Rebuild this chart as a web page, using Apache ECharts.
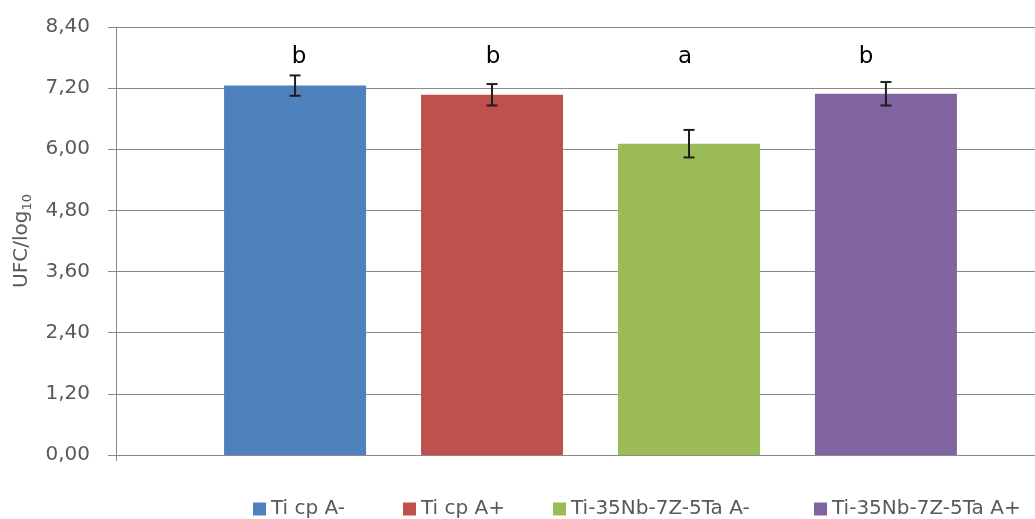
<!DOCTYPE html>
<html>
<head>
<meta charset="utf-8">
<script src="https://cdn.jsdelivr.net/npm/echarts@6/dist/echarts.min.js"></script>
<style>
html,body{margin:0;padding:0;background:#fff;}
#chart{width:1035px;height:519px;}
</style>
</head>
<body>
<div id="chart"></div>
<script>
// ---- data ----
var seriesNames = ['Ti cp A-', 'Ti cp A+', 'Ti-35Nb-7Z-5Ta A-', 'Ti-35Nb-7Z-5Ta A+'];
var means = [7.25, 7.07, 6.11, 7.09];
var errors = [0.20, 0.21, 0.27, 0.23];
var letters = ['b', 'b', 'a', 'b'];
var yTickLabels = ['0,00', '1,20', '2,40', '3,60', '4,80', '6,00', '7,20', '8,40'];
var yMin = 0, yMax = 8.4, yStep = 1.2;

// ---- style / layout ----
var colors = ['#4F81BD', '#C0504D', '#9BBB59', '#8064A2'];
var FONT = 'DejaVu Sans';
var BAR_W = 142, BAR_GAP = '38.7%';
var letterValue = 7.81;
var letterShift = [4, 1, -4, -20];
var legendLeft = [253, 403, 553, 814];

var chart = echarts.init(document.getElementById('chart'), null, {renderer: 'canvas'});

var series = seriesNames.map(function (name, i) {
  return {
    name: name,
    type: 'bar',
    data: [means[i]],
    barWidth: BAR_W,
    barGap: BAR_GAP,
    itemStyle: {color: colors[i]},
    z: 2
  };
});

series.push({
  type: 'custom',
  name: 'err',
  z: 5,
  silent: true,
  data: means.map(function (m, i) { return [0, m - errors[i], m + errors[i], i]; }),
  renderItem: function (params, api) {
    var idx = api.value(3);
    var offset;
    var layout = api.barLayout ? api.barLayout({barWidth: BAR_W, barGap: BAR_GAP, count: seriesNames.length}) : null;
    if (layout && layout[idx]) {
      offset = layout[idx].offsetCenter;
    } else {
      var gap = BAR_W * parseFloat(BAR_GAP) / 100;
      var n = seriesNames.length;
      var total = n * BAR_W + (n - 1) * gap;
      offset = -total / 2 + idx * (BAR_W + gap) + BAR_W / 2;
    }
    var lo = api.coord([api.value(0), api.value(1)]);
    var hi = api.coord([api.value(0), api.value(2)]);
    var lp = api.coord([api.value(0), letterValue]);
    var x = lo[0] + offset;
    var cap = 5.5;
    var st = {stroke: '#1e1e1e', lineWidth: 2};
    return {
      type: 'group',
      children: [
        {type: 'line', shape: {x1: x, y1: hi[1], x2: x, y2: lo[1]}, style: st},
        {type: 'line', shape: {x1: x - cap, y1: hi[1], x2: x + cap, y2: hi[1]}, style: st},
        {type: 'line', shape: {x1: x - cap, y1: lo[1], x2: x + cap, y2: lo[1]}, style: st},
        {type: 'text', x: x + letterShift[idx], y: lp[1],
          style: {text: letters[idx], fill: '#000', font: '23px "' + FONT + '"', align: 'center', verticalAlign: 'middle'}}
      ]
    };
  }
});

var legends = seriesNames.map(function (name, i) {
  return {
    data: [name],
    left: legendLeft[i],
    top: 499,
    itemWidth: 13,
    itemHeight: 13,
    icon: 'rect',
    padding: 0,
    textStyle: {color: '#595959', fontSize: 20, fontFamily: FONT},
    selectedMode: false
  };
});

var option = {
  animation: false,
  backgroundColor: '#ffffff',
  textStyle: {fontFamily: FONT},
  grid: {left: 116, right: -30, top: 27, bottom: 64, containLabel: false, outerBoundsMode: 'none'},
  legend: legends,
  xAxis: {
    type: 'category',
    data: [''],
    axisLine: {show: true, lineStyle: {color: '#8a8a8a', width: 1}},
    axisTick: {show: true, length: 6, lineStyle: {color: '#8a8a8a'}},
    axisLabel: {show: false},
    splitLine: {show: false}
  },
  yAxis: {
    type: 'value',
    min: yMin,
    max: yMax,
    interval: yStep,
    name: '{a|UFC/log}{s|10}',
    nameLocation: 'middle',
    nameGap: 76,
    nameTextStyle: {
      color: '#595959',
      rich: {
        a: {fontSize: 20, fontFamily: FONT, color: '#595959', lineHeight: 26},
        s: {fontSize: 13, fontFamily: FONT, color: '#595959', lineHeight: 26, verticalAlign: 'bottom', padding: [10, 0, 0, 0]}
      }
    },
    axisLine: {show: true, lineStyle: {color: '#8a8a8a', width: 1}},
    axisTick: {show: true, length: 8, lineStyle: {color: '#8a8a8a'}},
    axisLabel: {
      color: '#595959',
      fontSize: 20,
      fontFamily: FONT,
      margin: 26,
      formatter: function (v, i) { return yTickLabels[i] !== undefined ? yTickLabels[i] : v.toFixed(2).replace('.', ','); }
    },
    splitLine: {show: true, lineStyle: {color: '#8a8a8a', width: 1}}
  },
  series: series
};

chart.setOption(option);
</script>
</body>
</html>
